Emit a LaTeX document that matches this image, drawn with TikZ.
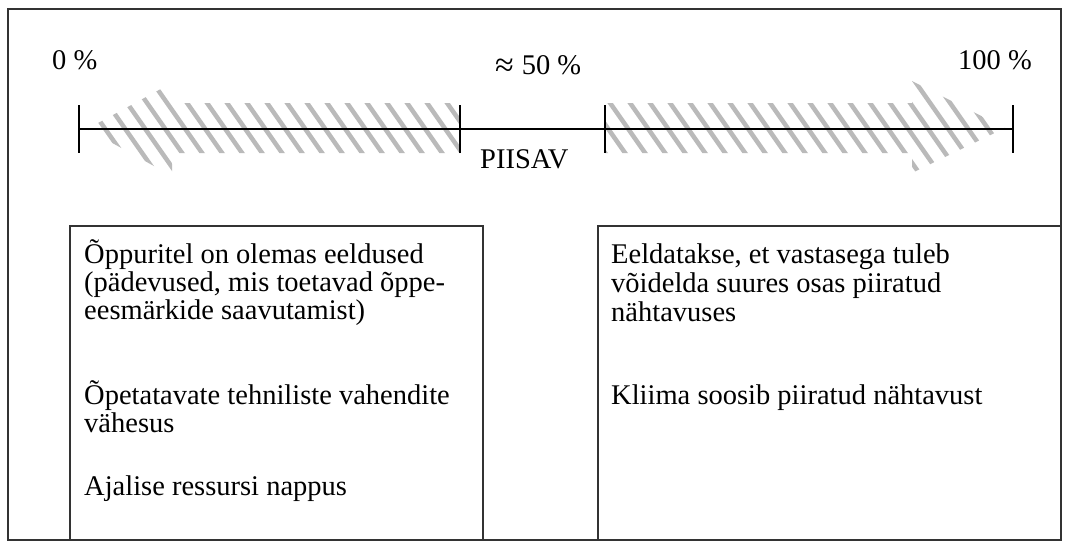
\documentclass[tikz,border=0pt]{standalone}
\usepackage{fontspec}
\setmainfont{Liberation Serif}
\begin{document}
\begin{tikzpicture}[x=1pt,y=-1pt,
  lbl/.style={font=\fontsize{28.5}{29}\selectfont, inner sep=0pt, anchor=base west},
  lblr/.style={lbl, anchor=base east},
  frameln/.style={draw=black!80, line width=2pt},
  tickln/.style={draw=black, line width=2.2pt},
  axisln/.style={draw=black, line width=1.5pt},
  stripe/.style={draw=black!27, line width=4.5pt}]
\useasboundingbox (0,0) rectangle (1070,557);
\fill[white] (0,0) rectangle (1070,557);
% outer frame
\draw[frameln] (8,9) rectangle (1061,540);
% hatched arrows
\begin{scope}
\clip (87,129) -- (170,84) -- (170,103) -- (460,103) -- (460,153) -- (172,153) -- (172,176) -- cycle;
\foreach \x in {-3,17,...,477} \draw[stripe] (\x,60) -- (\x+91,190);
\end{scope}
\begin{scope}
\clip (605,103) -- (912,103) -- (912,81) -- (1005,128) -- (912,173) -- (912,153) -- (605,153) -- cycle;
\foreach \x in {500,520,...,1020} \draw[stripe] (\x,60) -- (\x+91,190);
\end{scope}
% axis
\coordinate (t0) at (79,129);
\coordinate (t1) at (460,129);
\coordinate (t2) at (605,129);
\coordinate (t3) at (1013,129);
\draw[axisln] (t0) -- (t3);
\foreach \t in {t0,t1,t2,t3}
  \draw[tickln] ([yshift=24pt]\t) -- ([yshift=-24pt]\t);
% labels
\node[lbl] (p0) at (52,69) {0 \%};
\node[lbl] (p50) at (495,74) {\raisebox{-2pt}{\fontsize{34}{34}\selectfont ≈}\hspace{8pt}50 \%};
\node[lblr] (p100) at (1032,69) {100 \%};
\node[lbl] (piisav) at (480,168) {PIISAV};
% boxes
\draw[frameln] (70,226) rectangle (483,540);
\draw[frameln] (598,226) rectangle (1061,540);
% left box text
\node[lbl] (l1) at (84,263) {Õppuritel on olemas eeldused};
\node[lbl] (l2) at (84,291) {(pädevused, mis toetavad õppe-};
\node[lbl] (l3) at (84,319) {eesmärkide saavutamist)};
\node[lbl] (l4) at (84,404) {Õpetatavate tehniliste vahendite};
\node[lbl] (l5) at (84,432) {vähesus};
\node[lbl] (l6) at (84,495) {Ajalise ressursi nappus};
% right box text
\node[lbl] (r1) at (611,263) {Eeldatakse, et vastasega tuleb};
\node[lbl] (r2) at (611,292) {võidelda suures osas piiratud};
\node[lbl] (r3) at (611,321) {nähtavuses};
\node[lbl] (r4) at (611,404) {Kliima soosib piiratud nähtavust};
\end{tikzpicture}
\end{document}
